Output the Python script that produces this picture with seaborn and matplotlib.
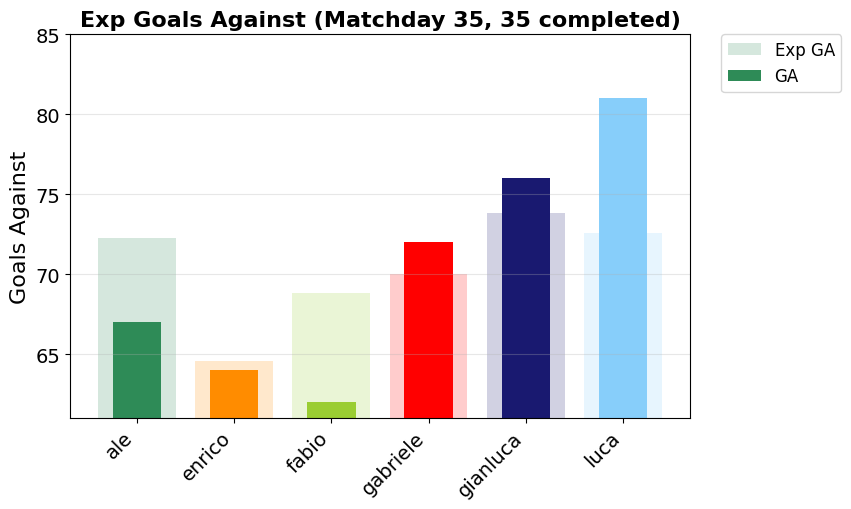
import numpy as np
import pandas as pd
import matplotlib
matplotlib.use("Agg")
import matplotlib.pyplot as plt
import seaborn as sns
from matplotlib.patches import Patch

# ── Data ──────────────────────────────────────────────
players = ["ale", "enrico", "fabio", "gabriele", "gianluca", "luca"]
exp_ga = [72.25, 64.6, 68.8, 70.0, 73.8, 72.6]
ga = [67, 64, 62, 72, 76, 81]
colors = ["seagreen", "darkorange", "yellowgreen", "red", "midnightblue", "lightskyblue"]

df = pd.DataFrame({"player": players, "exp_ga": exp_ga, "ga": ga})

# ── Figure ────────────────────────────────────────────
fig = plt.figure(figsize=(8.51, 5.10), dpi=100)
ax = fig.add_axes([0.082, 0.178, 0.729, 0.753])

sns.barplot(data=df, x="player", y="exp_ga", hue="player", palette=colors,
            width=0.8, alpha=0.2, legend=False, ax=ax, saturation=1)
sns.barplot(data=df, x="player", y="ga", hue="player", palette=colors,
            width=0.5, legend=False, ax=ax, saturation=1)

ax.set_ylim(61, 85)
ax.set_xlim(-0.69, 5.69)
ax.grid(axis="y", alpha=0.3)
ax.set_title("Exp Goals Against (Matchday 35, 35 completed)", fontsize=16, fontweight="bold")
ax.set_ylabel("Goals Against", fontsize=16)
ax.set_xlabel("")
ax.tick_params(axis="y", labelsize=14)
ax.set_xticks(range(len(players)))
ax.set_xticklabels(players, rotation=45, ha="right", fontsize=14)

handles = [Patch(facecolor="seagreen", alpha=0.2, label="Exp GA"),
           Patch(facecolor="seagreen", label="GA")]
ax.legend(handles=handles, loc="upper left", bbox_to_anchor=(1.05, 1.0),
          borderaxespad=0.0, fontsize=12)

fig.savefig("out.png", dpi=100)
